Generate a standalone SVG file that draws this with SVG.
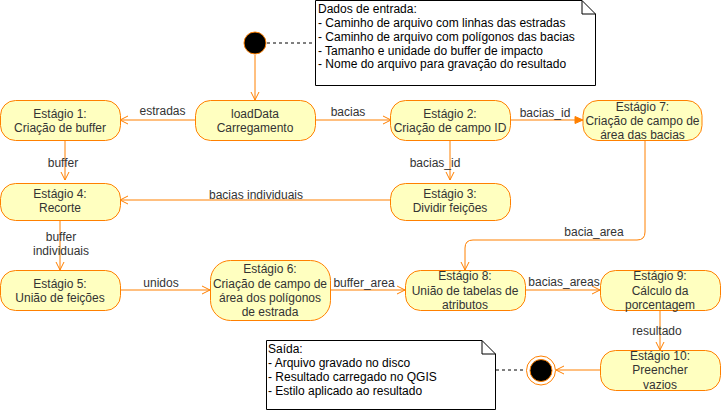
<svg xmlns="http://www.w3.org/2000/svg" width="721" height="411" viewBox="0 0 721 411">
<style>
.n{fill:#ffffc0;stroke:#ff8000;stroke-width:1}
.t{font-family:"Liberation Sans",Arial,sans-serif;font-size:12px;fill:#333333;text-anchor:middle}
.l{font-family:"Liberation Sans",Arial,sans-serif;font-size:12px;fill:#333333;text-anchor:middle}
.nt{font-family:"Liberation Sans",Arial,sans-serif;font-size:12px;fill:#000000}
.e{fill:none;stroke:#ff8000;stroke-width:1;marker-end:url(#open)}
.ef{fill:none;stroke:#ff8000;stroke-width:1;marker-end:url(#block)}
.d{fill:none;stroke:#000;stroke-width:1;stroke-dasharray:3,3}
.note{fill:#fff;stroke:#000;stroke-width:1}
</style>
<defs>
<marker id="open" markerUnits="userSpaceOnUse" markerWidth="12" markerHeight="12" refX="9" refY="5" orient="auto" overflow="visible">
<path d="M1,1 L9,5 L1,9" fill="none" stroke="#ff8000" stroke-width="1"/>
</marker>
<marker id="block" markerUnits="userSpaceOnUse" markerWidth="12" markerHeight="12" refX="9" refY="5" orient="auto" overflow="visible">
<path d="M1,1.5 L9,5 L1,8.5 Z" fill="#ff8000" stroke="#ff8000" stroke-width="1"/>
</marker>
</defs>
<rect width="721" height="411" fill="#fff"/>

<g id="connectors">
<path class="e" d="M255,55 L255,100"/>
<path class="e" d="M195,120 L120,120"/>
<path class="e" d="M315,120 L391,120"/>
<path class="ef" d="M510,120 L583,120"/>
<path class="e" d="M65,140 L65,180"/>
<path class="e" d="M390,200 L120,200"/>
<path class="e" d="M450,140 L450,180"/>
<path class="e" d="M60,220 L60,270"/>
<path class="e" d="M120,290 L210,290"/>
<path class="e" d="M330,290 L405,290"/>
<path class="e" d="M645,140 L645,232 Q645,240 637,240 L473,240 Q465,240 465,248 L465,270"/>
<path class="e" d="M525,290 L600,290"/>
<path class="e" d="M660,310 L660,350"/>
<path class="e" d="M600,370 L556,370"/>
<path class="d" d="M267,43 L315,43"/>
<path class="d" d="M496,370 L526,370"/>
<text class="l" x="162.5" y="115">estradas</text>
<text class="l" x="348" y="116">bacias</text>
<text class="l" x="545" y="117">bacias_id</text>
<text class="l" x="63" y="167">buffer</text>
<text class="l" x="256" y="198.5">bacias individuais</text>
<text class="l" x="435" y="167">bacias_id</text>
<text class="l" x="61" y="241">buffer</text>
<text class="l" x="61" y="254.5">individuais</text>
<text class="l" x="161" y="287">unidos</text>
<text class="l" x="364" y="287">buffer_area</text>
<text class="l" x="594" y="236">bacia_area</text>
<text class="l" x="564" y="286">bacias_areas</text>
<text class="l" x="657" y="335">resultado</text>
</g>

<g id="start">
<circle cx="255" cy="43" r="11" fill="#000" stroke="#ff8000" stroke-width="1"/>
</g>

<g id="note-entrada">
<path class="note" d="M315.5,0.5 L582,0.5 L595.5,14 L595.5,85.5 L315.5,85.5 Z"/>
<path fill="none" stroke="#000" d="M582,0.5 L582,14 L595.5,14"/>
<text class="nt" x="318" y="13">Dados de entrada:</text>
<text class="nt" x="318" y="27">- Caminho de arquivo com linhas das estradas</text>
<text class="nt" x="318" y="40.5">- Caminho de arquivo com polígonos das bacias</text>
<text class="nt" x="318" y="54.5">- Tamanho e unidade do buffer de impacto</text>
<text class="nt" x="318" y="68">- Nome do arquivo para gravação do resultado</text>
</g>

<g id="e1">
<rect class="n" x="0.5" y="100.5" width="120" height="40" rx="15"/>
<text class="t" x="60" y="118">Estágio 1:</text>
<text class="t" x="60" y="132">Criação de buffer</text>
</g>
<g id="loaddata">
<rect class="n" x="195.5" y="100.5" width="120" height="40" rx="15"/>
<text class="t" x="255" y="118">loadData</text>
<text class="t" x="255" y="132">Carregamento</text>
</g>
<g id="e2">
<rect class="n" x="390.5" y="100.5" width="120" height="40" rx="15"/>
<text class="t" x="450" y="118">Estágio 2:</text>
<text class="t" x="450" y="132">Criação de campo ID</text>
</g>
<g id="e7">
<rect class="n" x="583" y="100.5" width="119" height="40" rx="15"/>
<text class="t" x="642.5" y="111">Estágio 7:</text>
<text class="t" x="642.5" y="125">Criação de campo de</text>
<text class="t" x="642.5" y="139">área das bacias</text>
</g>
<g id="e4">
<rect class="n" x="0.5" y="183.5" width="120" height="37" rx="15"/>
<text class="t" x="60" y="198">Estágio 4:</text>
<text class="t" x="60" y="212">Recorte</text>
</g>
<g id="e3">
<rect class="n" x="390.5" y="183.5" width="120" height="37" rx="15"/>
<text class="t" x="450" y="198">Estágio 3:</text>
<text class="t" x="450" y="212">Dividir feições</text>
</g>
<g id="e5">
<rect class="n" x="0.5" y="270.5" width="120" height="40" rx="15"/>
<text class="t" x="60" y="288">Estágio 5:</text>
<text class="t" x="60" y="302">União de feições</text>
</g>
<g id="e6">
<rect class="n" x="210.5" y="260.5" width="120" height="60" rx="20"/>
<text class="t" x="270" y="273">Estágio 6:</text>
<text class="t" x="270" y="288">Criação de campo de</text>
<text class="t" x="270" y="302">área dos polígonos</text>
<text class="t" x="270" y="316">de estrada</text>
</g>
<g id="e8">
<rect class="n" x="405.5" y="270.5" width="120" height="40" rx="15"/>
<text class="t" x="465" y="280">Estágio 8:</text>
<text class="t" x="465" y="295">União de tabelas de</text>
<text class="t" x="465" y="309">atributos</text>
</g>
<g id="e9">
<rect class="n" x="600.5" y="270.5" width="120" height="40" rx="15"/>
<text class="t" x="660" y="280">Estágio 9:</text>
<text class="t" x="660" y="295">Cálculo da</text>
<text class="t" x="660" y="309">porcentagem</text>
</g>
<g id="e10">
<rect class="n" x="600.5" y="350.5" width="120" height="40" rx="15"/>
<text class="t" x="660" y="360">Estágio 10:</text>
<text class="t" x="660" y="374">Preencher</text>
<text class="t" x="660" y="389">vazios</text>
</g>

<g id="end">
<circle cx="541" cy="370.5" r="14.5" fill="#fff" stroke="#ff8000" stroke-width="1"/>
<circle cx="541" cy="370.5" r="11" fill="#000" stroke="#ff8000" stroke-width="1"/>
</g>

<g id="note-saida">
<path class="note" d="M266.5,340.5 L482,340.5 L495.5,354 L495.5,409.5 L266.5,409.5 Z"/>
<path fill="none" stroke="#000" d="M482,340.5 L482,354 L495.5,354"/>
<text class="nt" x="268" y="353">Saída:</text>
<text class="nt" x="268" y="367">- Arquivo gravado no disco</text>
<text class="nt" x="268" y="381">- Resultado carregado no QGIS</text>
<text class="nt" x="268" y="395">- Estilo aplicado ao resultado</text>
</g>
</svg>
